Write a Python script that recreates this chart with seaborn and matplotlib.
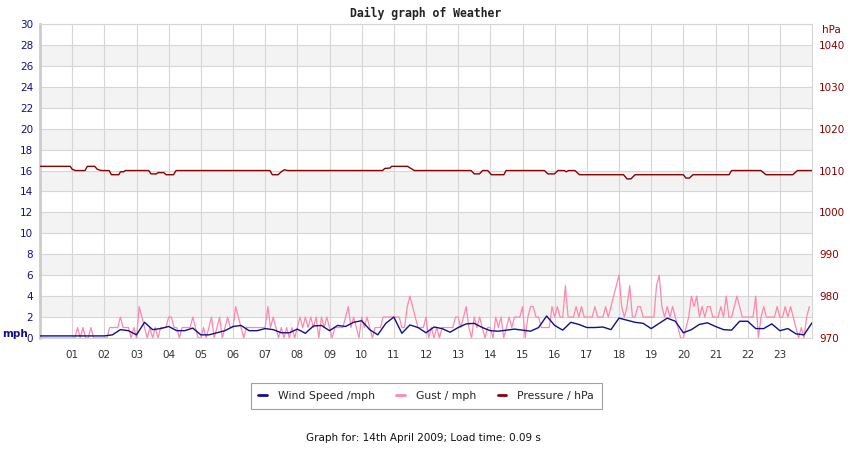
import numpy as np
import pandas as pd
import matplotlib
matplotlib.use('Agg')
import matplotlib.pyplot as plt
import seaborn as sns
from matplotlib.lines import Line2D

# wind speed (mph), one reading every 15 minutes from 00:00 to 24:00
wind = [0.2, 0.2, 0.2, 0.2, 0.2, 0.2, 0.2, 0.2, 0.2,
        0.3, 0.8, 0.7, 0.3, 1.5, 0.8, 0.9, 1.1, 0.7, 0.7, 0.95, 0.3,
        0.3, 0.5, 0.7, 1.1, 1.2, 0.7, 0.7, 0.9, 0.8, 0.5, 0.5, 0.85,
        0.45, 1.15, 1.2, 0.7, 1.2, 1.1, 1.5, 1.65, 0.8, 0.3, 1.4, 2.0,
        0.45, 1.25, 1.0, 0.5, 1.05, 0.9, 0.55, 1.0, 1.35, 1.4, 1.0, 0.7,
        0.65, 0.75, 0.85, 0.75, 0.65, 1.0, 2.1, 1.2, 0.75, 1.5, 1.3, 1.0,
        1.0, 1.05, 0.8, 1.9, 1.7, 1.5, 1.4, 0.9, 1.4, 1.9, 1.6, 0.5,
        0.8, 1.3, 1.45, 1.1, 0.8, 0.75, 1.6, 1.6, 0.9, 0.9, 1.35, 0.7,
        0.9, 0.4, 0.3, 1.45]

# gust (mph), one reading every 5 minutes, one string per hour
gust_hours = ["000000000000", "001010010000", "001111211101", "032101010111",
              "221101111210", "010120120121", "132101111111", "131210101010",
              "121212120212", "101111231210", "212101112222", "222113432111",
              "201010111112", "212310212101", "102120121222", "302332211113",
              "232252223232", "222322232345", "632352233222", "225632323210",
              "012434232332", "223242234322", "222402322223", "223232101023"]

# pressure (hPa) at the times (hours) where the trace changes
p_time = [0, 0.94, 1.0, 1.1, 1.4, 1.47, 1.7, 1.78, 1.9, 2.15, 2.22, 2.45, 2.5,
          2.6, 2.65, 3.38, 3.45, 3.62, 3.67, 3.85, 3.92, 4.15, 4.23, 7.15, 7.22,
          7.4, 7.5, 7.6, 7.7, 10.65, 10.72, 10.88, 10.93, 11.43, 11.53, 11.64,
          13.4, 13.5, 13.66, 13.76, 13.92, 14.03, 14.42, 14.49, 15.68, 15.79,
          15.99, 16.1, 16.3, 16.36, 16.43, 16.63, 16.77, 18.14, 18.25, 18.37,
          18.5, 20.0, 20.08, 20.19, 20.3, 21.42, 21.5, 22.41, 22.57, 23.4,
          23.55, 24]
p_val = [1011, 1011, 1010.3, 1010, 1010, 1011, 1011, 1010.3, 1010, 1010, 1009,
         1009, 1009.7, 1009.7, 1010, 1010, 1009.2, 1009.2, 1009.5, 1009.5, 1009,
         1009, 1010, 1010, 1009, 1009, 1009.7, 1010.2, 1010, 1010, 1010.5,
         1010.6, 1011, 1011, 1010.5, 1010, 1010, 1009.2, 1009.2, 1010, 1010,
         1009, 1009, 1010, 1010, 1009.2, 1009.2, 1010, 1010, 1009.7, 1010,
         1010, 1009, 1009, 1008, 1008, 1009, 1009, 1008.2, 1008.2, 1009, 1009,
         1010, 1010, 1009, 1009, 1010, 1010]

hour_labels = ["01", "02", "03", "04", "05", "06", "07", "08", "09", "10", "11",
               "12", "13", "14", "15", "16", "17", "18", "19", "20", "21", "22",
               "23"]

gust = [int(c) for h in gust_hours for c in h]
wind_df = pd.DataFrame({'hour': np.arange(len(wind)) * 0.25, 'mph': wind})
gust_df = pd.DataFrame({'hour': np.arange(len(gust)) * (5 / 60), 'mph': gust})
pres_df = pd.DataFrame({'hour': p_time, 'hPa': p_val})

navy = '#10108a'
pink = '#ff88aa'
darkred = '#8b0000'
gridc = '#d6d6d6'

sns.set_style('white')
plt.rcParams['font.family'] = ['DejaVu Sans']

fig = plt.figure(figsize=(8.5, 4.5), dpi=100)
ax = fig.add_axes([40 / 850, 1 - 338 / 450, 772 / 850, 314 / 450])

# alternating bands
for k in range(1, 15, 2):
    ax.axhspan(2 * k, 2 * k + 2, color='#f3f3f3', lw=0, zorder=0)
for y in range(0, 31, 2):
    ax.axhline(y, color=gridc, lw=0.8, zorder=1)
for x in range(1, 24):
    ax.axvline(x, color=gridc, lw=0.8, zorder=1)

sns.lineplot(data=gust_df, x='hour', y='mph', ax=ax, color=pink, lw=0.9, zorder=3)
sns.lineplot(data=wind_df, x='hour', y='mph', ax=ax, color=navy, lw=1.0, zorder=4)

ax.set_xlim(0, 24)
ax.set_ylim(0, 30)
ax.set_yticks(range(0, 31, 2))
ax.set_xticks(range(1, 24))
ax.set_xticklabels(hour_labels)
ax.set_xlabel('')
ax.set_ylabel('')
ax.tick_params(axis='y', length=0, pad=5, labelsize=7.5, labelcolor=navy)
ax.tick_params(axis='x', length=0, pad=9, labelsize=7.5, labelcolor='#333333')

for s in ['top', 'right', 'bottom']:
    ax.spines[s].set_color(gridc)
    ax.spines[s].set_linewidth(0.8)
ax.spines['left'].set_color('#cccccc')
ax.spines['left'].set_linewidth(2.0)

ax2 = ax.twinx()
sns.lineplot(data=pres_df, x='hour', y='hPa', ax=ax2, color=darkred, lw=1.0)
ax2.set_ylim(970, 1045)
ax2.set_yticks(range(970, 1041, 10))
ax2.set_ylabel('')
ax2.tick_params(axis='y', length=0, pad=5, labelsize=7.5, labelcolor=darkred)
for s in ax2.spines.values():
    s.set_visible(False)

fig.text(40 / 850 + 772 / 1700, 1 - 13 / 450, 'Daily graph of Weather',
         ha='center', va='center', fontsize=8.3, fontweight='bold',
         family='DejaVu Sans Mono', color='#222222')
fig.text(2 / 850, 1 - 334 / 450, 'mph', ha='left', va='center', fontsize=7.5,
         fontweight='bold', color=navy)
fig.text(822 / 850, 1 - 30 / 450, 'hPa', ha='left', va='center', fontsize=7.5,
         color=darkred)

handles = [Line2D([], [], color=navy, lw=2),
           Line2D([], [], color=pink, lw=2),
           Line2D([], [], color=darkred, lw=2)]
leg = fig.legend(handles, ['Wind Speed /mph', 'Gust / mph', 'Pressure / hPa'],
                 loc='center', bbox_to_anchor=(426 / 850, 1 - 396 / 450), ncol=3,
                 fontsize=7.8, handlelength=0.8, handletextpad=1.0,
                 columnspacing=2.0, frameon=True, fancybox=False,
                 borderpad=0.7)
leg.get_frame().set_edgecolor('#888888')
leg.get_frame().set_linewidth(0.8)

fig.text(423 / 850, 1 - 438 / 450, 'Graph for: 14th April 2009; Load time: 0.09 s',
         ha='center', va='center', fontsize=7.5, color='#111111')

fig.savefig('out.png', dpi=100)
